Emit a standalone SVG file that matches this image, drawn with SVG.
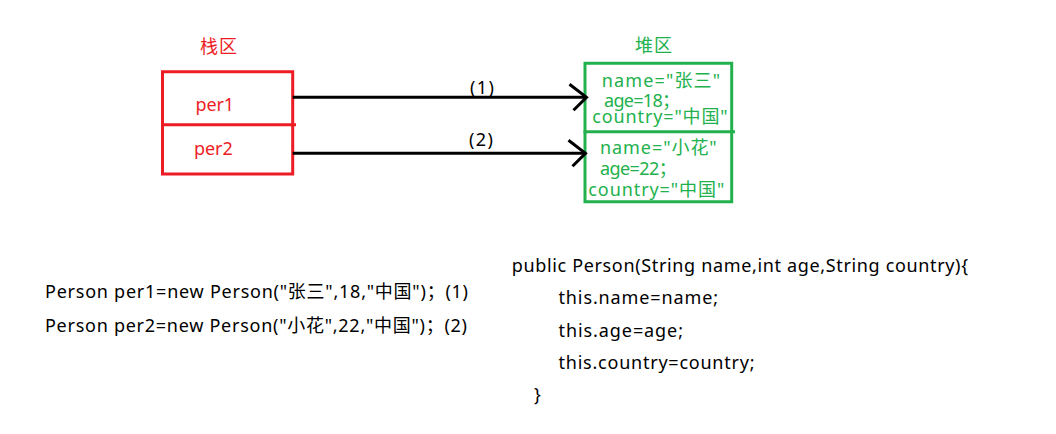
<svg xmlns="http://www.w3.org/2000/svg" width="1056" height="434" viewBox="0 0 1056 434">
<style>
text{font-family:"Noto Sans","Noto Sans CJK SC",sans-serif;font-size:18px}
.red{fill:#ED1C24}
.green{fill:#22B14C}
.blk{fill:#000}
.rbox{fill:none;stroke:#ED1C24;stroke-width:3}
.gbox{fill:none;stroke:#22B14C;stroke-width:3}
.conn{stroke:#000;stroke-width:3;fill:none}
</style>
<defs>
<marker id="chev" markerUnits="userSpaceOnUse" markerWidth="40" markerHeight="40" viewBox="-20 -20 40 40" refX="0" refY="0" orient="auto">
<path d="M-17,-13 L0,0 L-13,13" fill="none" stroke="#000" stroke-width="3"/>
</marker>
</defs>
<rect width="1056" height="434" fill="#fff"/>
<text class="red" x="200" y="53" textLength="37">栈区</text>
<text class="green" x="635" y="52" textLength="37">堆区</text>
<g id="per1">
<path class="rbox" d="M162.5,124.7 V71.7 H292.7 V124.7"/>
<text class="red" x="195.5" y="111" textLength="38.5">per1</text>
</g>
<g id="per2">
<path class="rbox" d="M162.5,124.7 V174 H292.7 V124.7"/>
<line class="rbox" x1="161" y1="124.7" x2="296" y2="124.7"/>
<text class="red" x="194" y="155" textLength="38.7">per2</text>
</g>
<g id="obj1">
<path class="gbox" d="M585,131.7 V63.3 H731.7 V131.7"/>
<text class="green" x="601.7" y="86.5" textLength="118.3">name="张三"</text>
<text class="green" x="604" y="106.5" textLength="76">age=18；</text>
<text class="green" x="592.3" y="123.3" textLength="135.4">country="中国"</text>
</g>
<g id="obj2">
<path class="gbox" d="M585,131.7 V201.7 H731.7 V131.7"/>
<line class="gbox" x1="583.5" y1="131.7" x2="735" y2="131.7"/>
<text class="green" x="600" y="154.3" textLength="116.7">name="小花"</text>
<text class="green" x="600" y="175" textLength="76.7">age=22；</text>
<text class="green" x="588.3" y="195.7" textLength="136">country="中国"</text>
</g>
<g id="connectors">
<line class="conn" x1="292.7" y1="97.3" x2="586.5" y2="97.3" marker-end="url(#chev)"/>
<line class="conn" x1="292.7" y1="153.3" x2="585.5" y2="153.3" marker-end="url(#chev)"/>
<text class="blk" x="470" y="94" textLength="24">(1)</text>
<text class="blk" x="469" y="146" textLength="24">(2)</text>
</g>
<g id="calls">
<text class="blk" x="45" y="298" textLength="423">Person per1=new Person("张三",18,"中国")；(1)</text>
<text class="blk" x="45" y="332" textLength="422">Person per2=new Person("小花",22,"中国")；(2)</text>
</g>
<g id="constructor">
<text class="blk" x="511.7" y="271.5" textLength="456.3">public Person(String name,int age,String country){</text>
<text class="blk" x="558.5" y="303.5" textLength="159.5">this.name=name;</text>
<text class="blk" x="558.5" y="336.5" textLength="124.5">this.age=age;</text>
<text class="blk" x="558.5" y="368.5" textLength="196">this.country=country;</text>
<text class="blk" x="534" y="400.5">}</text>
</g>
</svg>
